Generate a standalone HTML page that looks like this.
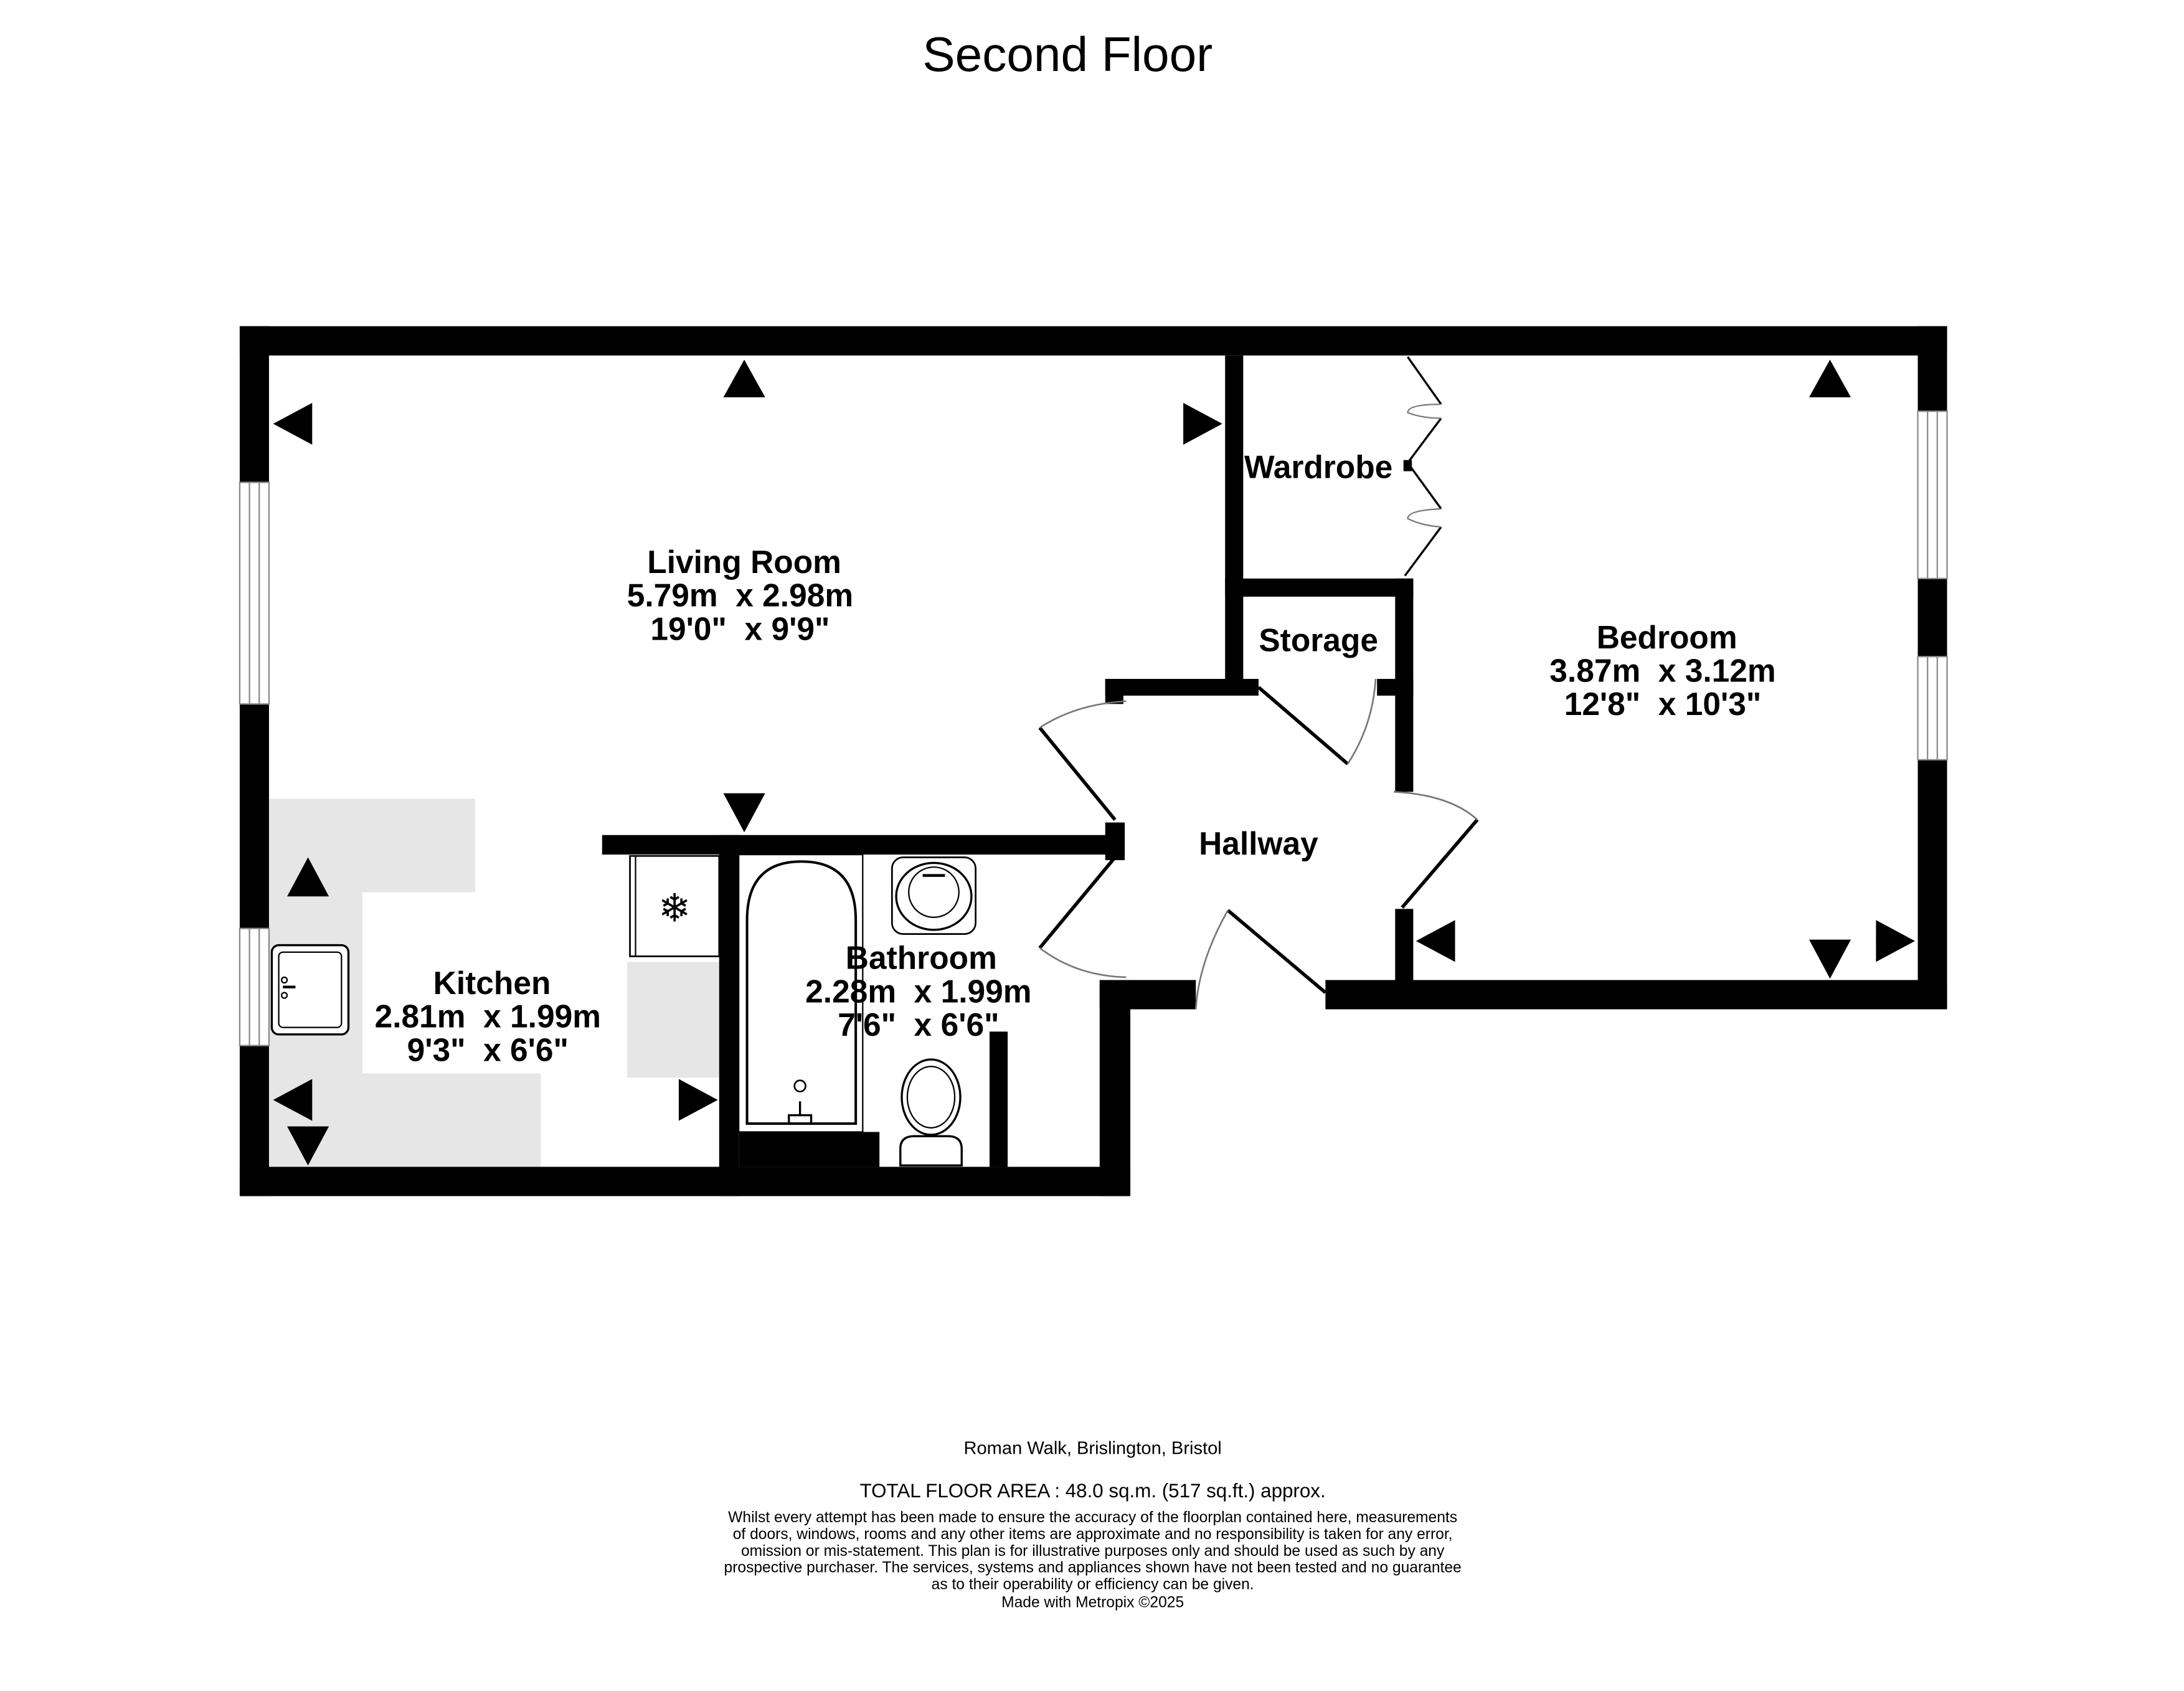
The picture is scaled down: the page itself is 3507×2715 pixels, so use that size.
<!DOCTYPE html>
<html><head><meta charset="utf-8"><style>
html,body{margin:0;padding:0;background:#fff}
svg{display:block}
text{font-family:"Liberation Sans",sans-serif;white-space:pre}
</style></head><body>
<svg width="3507" height="2715" viewBox="0 0 1567 1213" preserveAspectRatio="none" xmlns="http://www.w3.org/2000/svg">
<rect width="1567" height="1213" fill="#fff"/>
<text x="766" y="51" font-size="35" text-anchor="middle">Second Floor</text>

<g fill="#e6e6e6">
<rect x="193" y="573" width="148" height="67"/>
<rect x="193" y="640" width="67" height="197"/>
<rect x="260" y="770" width="128" height="67"/>
<rect x="450" y="690" width="66" height="83"/>
</g>

<g fill="#000">
<rect x="172" y="234" width="1225" height="21"/>
<rect x="172" y="234" width="21" height="624"/>
<rect x="1376" y="234" width="21" height="490"/>
<rect x="172" y="837" width="639" height="21"/>
<rect x="789" y="703" width="22" height="155"/>
<rect x="789" y="703" width="69" height="21"/>
<rect x="951" y="703" width="446" height="21"/>
<rect x="1001" y="415" width="13" height="153"/>
<rect x="1001" y="652" width="13" height="72"/>
<rect x="879" y="255" width="13" height="242"/>
<rect x="879" y="415" width="135" height="13"/>
<rect x="793" y="487" width="110" height="12"/>
<rect x="793" y="487" width="13" height="18"/>
<rect x="988" y="487" width="26" height="12"/>
<rect x="432" y="599" width="374" height="14"/>
<rect x="793" y="590" width="14" height="27"/>
<rect x="516" y="599" width="14" height="259"/>
<rect x="530" y="812" width="101" height="25"/>
<rect x="710" y="740" width="13" height="97"/>
<rect x="1007" y="330" width="6" height="8"/>
</g>

<g fill="#fff" stroke="#888" stroke-width="1">
<rect x="172" y="346" width="21" height="159"/>
<rect x="172" y="666" width="21" height="84"/>
<rect x="1376" y="295" width="21" height="120"/>
<rect x="1376" y="471" width="21" height="74"/>
</g>
<g stroke="#888" stroke-width="1">
<line x1="179" y1="346" x2="179" y2="505"/><line x1="186" y1="346" x2="186" y2="505"/>
<line x1="179" y1="666" x2="179" y2="750"/><line x1="186" y1="666" x2="186" y2="750"/>
<line x1="1383" y1="295" x2="1383" y2="415"/><line x1="1390" y1="295" x2="1390" y2="415"/>
<line x1="1383" y1="471" x2="1383" y2="545"/><line x1="1390" y1="471" x2="1390" y2="545"/>
</g>

<g fill="#000">
<polygon points="534,258 519,285 549,285"/>
<polygon points="196,304 224,289 224,319"/>
<polygon points="877,304 849,289 849,319"/>
<polygon points="534,597 519,569 549,569"/>
<polygon points="1313,258 1298,285 1328,285"/>
<polygon points="1313,702 1298,674 1328,674"/>
<polygon points="1374,675 1346,660 1346,690"/>
<polygon points="1016,675 1044,660 1044,690"/>
<polygon points="221,615 206,643 236,643"/>
<polygon points="196,789 224,774 224,804"/>
<polygon points="221,836 206,808 236,808"/>
<polygon points="515,789 487,774 487,804"/>
</g>

<g fill="none" stroke="#000" stroke-width="2.5">
<line x1="800" y1="588" x2="746" y2="522"/>
<line x1="800" y1="615" x2="746" y2="680"/>
<line x1="903" y1="493" x2="967" y2="548"/>
<line x1="1060" y1="588" x2="1006" y2="651"/>
<line x1="881" y1="653" x2="951" y2="712"/>
</g>
<g fill="none" stroke="#777" stroke-width="1.2">
<path d="M746,522 Q772,505 808,503"/>
<path d="M746,680 Q772,700 808,701"/>
<path d="M967,548 Q985,520 987,487"/>
<path d="M1060,588 Q1040,570 1000,568"/>
<path d="M881,653 Q860,690 858,724"/>
</g>
<g fill="none" stroke="#000" stroke-width="1.5">
<polyline points="1010,256 1034,290"/>
<polyline points="1034,300 1010,332 1034,365"/>
<polyline points="1034,378 1008,413"/>
</g>
<g fill="none" stroke="#777" stroke-width="1">
<path d="M1034,290 Q1010,290 1010,296 Q1020,300 1034,300"/>
<path d="M1034,365 Q1010,366 1010,372 Q1020,377 1034,378"/>
</g>

<rect x="452" y="614" width="64" height="72" fill="#fff" stroke="#000" stroke-width="1.2"/>
<line x1="456" y1="614" x2="456" y2="686" stroke="#000" stroke-width="1"/>
<text x="484" y="661" font-size="28" text-anchor="middle">❄</text>

<rect x="195" y="678" width="55" height="64" rx="5" fill="#fff" stroke="#000" stroke-width="1.5"/>
<rect x="200" y="683" width="45" height="54" rx="3" fill="none" stroke="#000" stroke-width="1"/>
<line x1="203" y1="708" x2="212" y2="708" stroke="#000" stroke-width="2"/>
<circle cx="204" cy="703" r="2" fill="none" stroke="#000"/><circle cx="204" cy="714" r="2" fill="none" stroke="#000"/>

<rect x="530" y="613" width="89" height="199" fill="#fff" stroke="#000" stroke-width="1"/>
<path d="M536,806 L536,660 Q536,618 575,618 Q614,618 614,660 L614,806 Z" fill="none" stroke="#000" stroke-width="1.8"/>
<circle cx="574" cy="779" r="4" fill="none" stroke="#000" stroke-width="1.2"/>
<path d="M566,806 L566,800 L582,800 L582,806 M574,790 L574,800" fill="none" stroke="#000" stroke-width="1.5"/>

<rect x="640" y="615" width="60" height="55" rx="8" fill="#fff" stroke="#000" stroke-width="1.2"/>
<ellipse cx="670" cy="643" rx="27" ry="24" fill="none" stroke="#000" stroke-width="1.5"/>
<circle cx="670" cy="640" r="18" fill="none" stroke="#000" stroke-width="1"/>
<line x1="662" y1="628" x2="678" y2="628" stroke="#000" stroke-width="2"/>

<ellipse cx="668" cy="787" rx="21" ry="27" fill="#fff" stroke="#000" stroke-width="1.5"/>
<ellipse cx="668" cy="787" rx="17" ry="22" fill="none" stroke="#000" stroke-width="1"/>
<path d="M646,836 L646,824 Q646,815 656,815 L680,815 Q690,815 690,824 L690,836 Z" fill="#fff" stroke="#000" stroke-width="1.5"/>

<g font-weight="bold" font-size="23" text-anchor="middle">
<text x="534" y="411">Living Room</text>
<text x="531" y="435">5.79m  x 2.98m</text>
<text x="531" y="459">19'0"  x 9'9"</text>
<text x="946" y="343">Wardrobe</text>
<text x="946" y="467">Storage</text>
<text x="1196" y="465">Bedroom</text>
<text x="1193" y="489">3.87m  x 3.12m</text>
<text x="1193" y="513">12'8"  x 10'3"</text>
<text x="903" y="613">Hallway</text>
<text x="353" y="713">Kitchen</text>
<text x="350" y="737">2.81m  x 1.99m</text>
<text x="350" y="761">9'3"  x 6'6"</text>
<text x="661" y="695">Bathroom</text>
<text x="659" y="719">2.28m  x 1.99m</text>
<text x="659" y="743">7'6"  x 6'6"</text>
</g>

<g text-anchor="middle" fill="#000">
<text x="784" y="1043" font-size="13">Roman Walk, Brislington, Bristol</text>
<text x="784" y="1074" font-size="14">TOTAL FLOOR AREA : 48.0 sq.m. (517 sq.ft.) approx.</text>
<g font-size="11">
<text x="784" y="1092">Whilst every attempt has been made to ensure the accuracy of the floorplan contained here, measurements</text>
<text x="784" y="1104">of doors, windows, rooms and any other items are approximate and no responsibility is taken for any error,</text>
<text x="784" y="1116">omission or mis-statement. This plan is for illustrative purposes only and should be used as such by any</text>
<text x="784" y="1128">prospective purchaser. The services, systems and appliances shown have not been tested and no guarantee</text>
<text x="784" y="1140">as to their operability or efficiency can be given.</text>
<text x="784" y="1153">Made with Metropix ©2025</text>
</g>
</g>
</svg>
</body></html>
